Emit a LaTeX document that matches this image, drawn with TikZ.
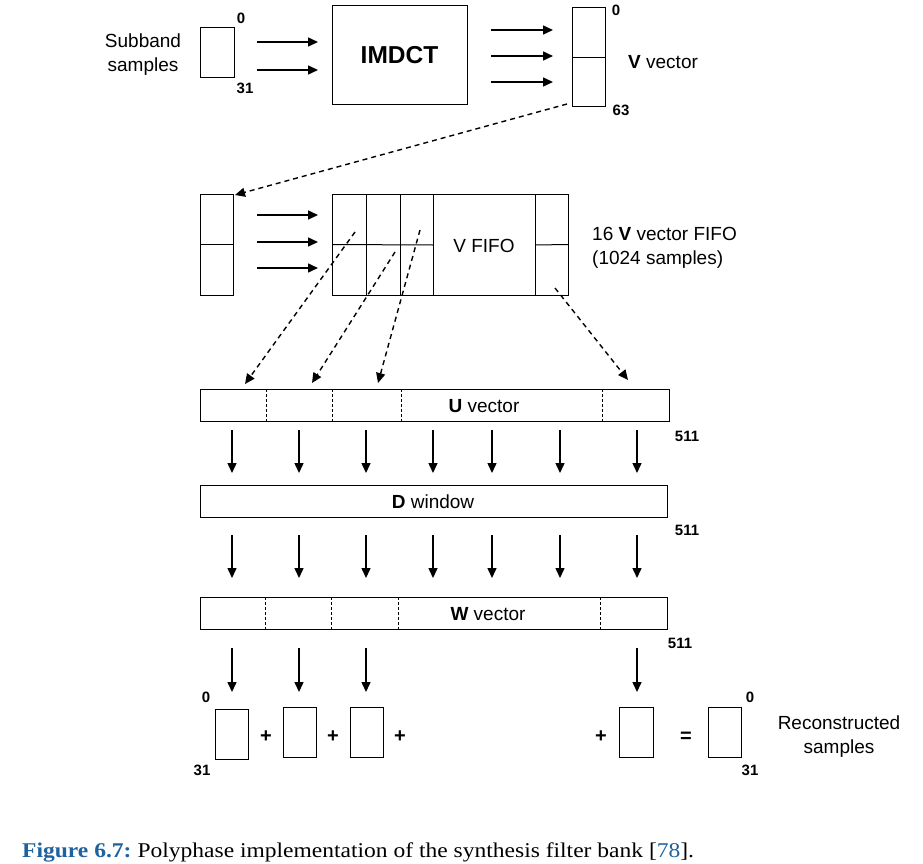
\documentclass[tikz,border=0pt]{standalone}
\usepackage{fontspec}
\setmainfont{Liberation Sans}
\newfontfamily\capfont[FakeStretch=1.12]{Liberation Serif}
\usetikzlibrary{arrows.meta,calc}
\definecolor{capblue}{RGB}{30,98,160}
\newcommand\mybox[6]{\node[box,anchor=north west,minimum width=#4pt,minimum height=#5pt] (#1) at (#2,#3) {#6};}
\begin{document}
\begin{tikzpicture}[x=1pt,y=-1pt,
  box/.style={draw,line width=1pt,inner sep=0pt,outer sep=0pt},
  arr/.style={-{Triangle[length=10pt,width=9pt]},line width=1.5pt},
  darr/.style={dash pattern=on 5pt off 4pt,-{Triangle[length=10pt,width=9pt]},line width=1.4pt},
  lbl/.style={font=\fontsize{19}{24}\selectfont,align=center,inner sep=0pt},
  num/.style={font=\bfseries\fontsize{15}{17}\selectfont,inner sep=0pt},
  big/.style={font=\bfseries\fontsize{24.5}{28}\selectfont},
  op/.style={font=\bfseries\fontsize{20}{22}\selectfont,inner sep=0pt}]
\useasboundingbox (0,0) rectangle (923,864);
% ---------- top row
\node[lbl] (sbt) at (143,55) {Subband\\samples};
\mybox{sb}{200}{28}{34}{50}{}
\node[num] (sb0) at (241,18) {0};
\node[num] (sb31) at (245,88) {31};
\mybox{imdct}{332}{6}{135}{99}{}
\node[big] at (imdct.center) {IMDCT};
\mybox{vv}{572}{8}{33}{99}{}
\draw[line width=1pt] (vv.west) -- (vv.east);
\node[num] (vv0) at (616,10) {0};
\node[num] (vv63) at (621,110) {63};
\node[lbl,anchor=west] (vvt) at (628,62) {\textbf{V} vector};
\foreach \y in {42,70}
  \draw[arr,shorten <=23pt,shorten >=14pt] (sb.east |- 0,\y) -- (imdct.west |- 0,\y);
\foreach \y in {30,56,82}
  \draw[arr,shorten <=24pt,shorten >=19pt] (imdct.east |- 0,\y) -- (vv.west |- 0,\y);
% ---------- second row
\mybox{vl}{200}{194}{33}{101}{}
\draw[line width=1pt] (vl.west) -- (vl.east);
\draw[darr] ([xshift=-5pt,yshift=3pt]vv.south west) -- ([xshift=2pt,yshift=-1pt]vl.north east);
\mybox{fifo}{332}{194}{236}{101}{}
\foreach \x in {366,400,433,535}
  \draw[line width=1pt] (\x,0 |- fifo.north) -- (\x,0 |- fifo.south);
\draw[line width=1pt] (fifo.west) -- (433,245);
\draw[line width=1pt] (535,245) -- (fifo.east);
\node[lbl] (fifot) at (484,246) {V FIFO};
\node[lbl,anchor=west,align=left] (fifod) at (592,248) {16 \textbf{V} vector FIFO\\(1024 samples)};
\foreach \y in {215,242,268}
  \draw[arr,shorten <=24pt,shorten >=14pt] (vl.east |- 0,\y) -- (fifo.west |- 0,\y);
% ---------- U vector
\mybox{u}{200}{389}{469}{32}{}
\foreach \x in {266,332,401,602}
  \draw[line width=0.9pt,dash pattern=on 3pt off 2pt] (\x,0 |- u.north) -- (\x,0 |- u.south);
\node[lbl] (ut) at (484,406) {\textbf{U} vector};
\node[num] (u511) at (687,436) {511};
\coordinate (f1) at (355,232); \coordinate (g1) at (245,384);
\coordinate (f2) at (395,252); \coordinate (g2) at (312,383);
\coordinate (f3) at (420,230); \coordinate (g3) at (378,383);
\coordinate (f4) at (555,288); \coordinate (g4) at (628,380);
\foreach \i in {1,2,3,4} \draw[darr] (f\i) -- (g\i);
% ---------- D window
\mybox{d}{200}{485}{467}{32}{}
\node[lbl] (dt) at (433,502) {\textbf{D} window};
\node[num] (d511) at (687,530) {511};
\foreach \x in {232,299,366,433,492,560,637}
  \draw[arr,shorten <=9pt,shorten >=12pt] (\x,0 |- u.south) -- (\x,0 |- d.north);
% ---------- W vector
\mybox{w}{200}{597}{467}{32}{}
\foreach \x in {265,331,398,600}
  \draw[line width=0.9pt,dash pattern=on 3pt off 2pt] (\x,0 |- w.north) -- (\x,0 |- w.south);
\node[lbl] (wt) at (488,614) {\textbf{W} vector};
\node[num] (w511) at (680,643) {511};
\foreach \x in {232,299,366,433,492,560,637}
  \draw[arr,shorten <=18pt,shorten >=19pt] (\x,0 |- d.south) -- (\x,0 |- w.north);
% ---------- bottom
\mybox{b1}{215}{709}{33}{50}{}
\mybox{b2}{283}{707}{33}{50}{}
\mybox{b3}{350}{707}{33}{50}{}
\mybox{b4}{619}{707}{34}{50}{}
\mybox{b5}{708}{707}{33}{50}{}
\node[num] (b10) at (206,697) {0};
\node[num] (b131) at (202,770) {31};
\node[num] (b50) at (750,697) {0};
\node[num] (b531) at (750,770) {31};
\node[op] at (266,737) {+};
\node[op] at (333,737) {+};
\node[op] at (400,737) {+};
\node[op] at (601,737) {+};
\node[op] at (686,737) {=};
\node[lbl] (rec) at (839,737) {Reconstructed\\samples};
\draw[arr,shorten <=19pt,shorten >=17pt] (232,0 |- w.south) -- (232,0 |- b1.north);
\draw[arr,shorten <=19pt,shorten >=15pt] (299,0 |- w.south) -- (299,0 |- b2.north);
\draw[arr,shorten <=19pt,shorten >=15pt] (366,0 |- w.south) -- (366,0 |- b3.north);
\draw[arr,shorten <=19pt,shorten >=15pt] (637,0 |- w.south) -- (637,0 |- b4.north);
% ---------- caption
\node[anchor=base west,inner sep=0pt,font=\capfont\fontsize{21}{24}\selectfont] (cap) at (22,857)
  {\textcolor{capblue}{\textbf{Figure 6.7:}}\hspace{6pt}Polyphase implementation of the synthesis filter bank [\textcolor{capblue}{78}].};
\end{tikzpicture}
\end{document}
